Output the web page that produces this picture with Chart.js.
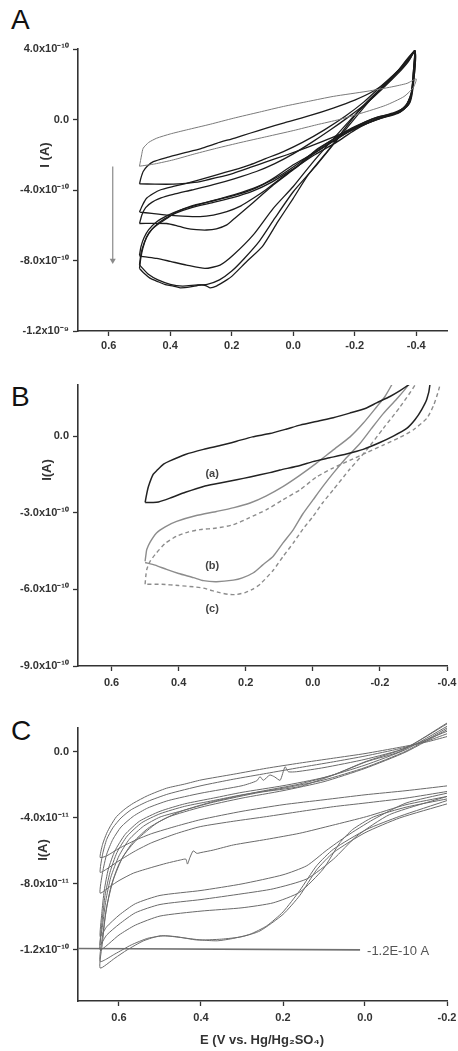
<!DOCTYPE html>
<html>
<head>
<meta charset="utf-8">
<script src="https://cdn.jsdelivr.net/npm/chart.js@4/dist/chart.umd.min.js"></script>
<style>
html, body { margin: 0; padding: 0; background: #fff; }
body { width: 458px; height: 1051px; position: relative; overflow: hidden; font-family: "Liberation Sans", Arial, sans-serif; }
canvas { position: absolute; left: 0; }
.panel { position: absolute; left: 11px; font-size: 28px; line-height: 28px; color: #111; }
</style>
</head>
<body>
<div class="panel" style="top:6px">A</div>
<div class="panel" style="top:383px">B</div>
<div class="panel" style="top:717px">C</div>
<canvas id="chartA" width="458" height="360" style="top:0px"></canvas>
<canvas id="chartB" width="458" height="360" style="top:340px"></canvas>
<canvas id="chartC" width="458" height="351" style="top:700px"></canvas>
<script>
// ---- data: [E (V), I] pairs; A and B in 1e-10 A, C in 1e-11 A ----

// panel A, seven successive scans (closed loops)
const loopA1 = [[0.50,-2.65],[0.493,-2.0],[0.488,-1.63],[0.47,-1.3],[0.444,-1.06],[0.40,-0.82],[0.347,-0.59],[0.27,-0.27],[0.195,0.07],[0.11,0.42],[0.032,0.74],[-0.05,1.03],[-0.13,1.31],[-0.24,1.6],[-0.32,1.85],[-0.37,2.05],[-0.40,2.3],[-0.39,1.8],[-0.36,1.3],[-0.30,0.8],[-0.22,0.35],[-0.15,0.0],[-0.076,-0.3],[0.0,-0.63],[0.086,-0.97],[0.17,-1.3],[0.249,-1.63],[0.32,-1.95],[0.39,-2.29],[0.45,-2.52],[0.50,-2.65]];
const loopA2 = [[0.50,-3.65],[0.495,-3.3],[0.488,-2.95],[0.475,-2.65],[0.455,-2.39],[0.41,-2.15],[0.358,-1.91],[0.30,-1.65],[0.249,-1.35],[0.19,-1.05],[0.141,-0.78],[0.09,-0.5],[0.032,-0.21],[-0.05,0.2],[-0.13,0.65],[-0.2,1.1],[-0.26,1.6],[-0.31,2.2],[-0.35,2.85],[-0.38,3.45],[-0.395,3.9],[-0.392,3.0],[-0.388,2.0],[-0.38,1.1],[-0.36,0.6],[-0.32,0.3],[-0.27,0.05],[-0.2,-0.45],[-0.13,-1.0],[-0.05,-1.55],[0.02,-2.0],[0.086,-2.39],[0.14,-2.72],[0.195,-3.05],[0.25,-3.3],[0.303,-3.52],[0.35,-3.62],[0.39,-3.67],[0.45,-3.67],[0.50,-3.65]];
const loopA3 = [[0.50,-5.25],[0.49,-4.85],[0.477,-4.47],[0.455,-4.2],[0.433,-4.0],[0.39,-3.8],[0.347,-3.62],[0.30,-3.4],[0.249,-3.14],[0.195,-2.87],[0.141,-2.57],[0.09,-2.22],[0.032,-1.82],[-0.03,-1.3],[-0.1,-0.6],[-0.17,0.2],[-0.23,1.0],[-0.28,1.8],[-0.33,2.6],[-0.37,3.3],[-0.395,3.9],[-0.39,2.6],[-0.385,1.6],[-0.37,0.9],[-0.34,0.4],[-0.29,0.1],[-0.22,-0.35],[-0.15,-0.95],[-0.08,-1.65],[-0.02,-2.55],[0.054,-3.52],[0.09,-4.0],[0.13,-4.47],[0.17,-4.9],[0.216,-5.23],[0.26,-5.42],[0.303,-5.51],[0.36,-5.48],[0.412,-5.42],[0.46,-5.33],[0.50,-5.25]];
const loopA4 = [[0.50,-5.9],[0.492,-5.4],[0.48,-5.0],[0.46,-4.7],[0.43,-4.45],[0.39,-4.25],[0.33,-4.0],[0.26,-3.7],[0.19,-3.35],[0.12,-2.95],[0.06,-2.5],[0.0,-1.95],[-0.06,-1.3],[-0.12,-0.6],[-0.18,0.15],[-0.24,0.95],[-0.29,1.75],[-0.34,2.6],[-0.375,3.3],[-0.395,3.9],[-0.39,2.4],[-0.383,1.4],[-0.365,0.75],[-0.33,0.35],[-0.28,0.05],[-0.21,-0.45],[-0.14,-1.1],[-0.07,-1.9],[0.0,-2.85],[0.065,-3.71],[0.11,-4.4],[0.152,-5.04],[0.19,-5.6],[0.216,-5.98],[0.25,-6.2],[0.282,-6.27],[0.315,-6.25],[0.347,-6.18],[0.38,-6.02],[0.412,-5.9],[0.46,-5.89],[0.50,-5.9]];
const loopA5 = [[0.50,-7.7],[0.495,-7.2],[0.485,-6.7],[0.47,-6.25],[0.444,-5.8],[0.41,-5.45],[0.37,-5.15],[0.303,-4.8],[0.24,-4.5],[0.17,-4.15],[0.1,-3.7],[0.04,-3.15],[-0.02,-2.45],[-0.08,-1.7],[-0.14,-1.0],[-0.2,-0.4],[-0.27,0.1],[-0.33,0.4],[-0.365,0.75],[-0.385,1.5],[-0.393,2.8],[-0.396,3.9],[-0.36,3.1],[-0.32,2.3],[-0.27,1.45],[-0.2,0.25],[-0.13,-1.1],[-0.06,-2.5],[0.0,-3.8],[0.065,-5.04],[0.13,-6.55],[0.195,-7.69],[0.238,-8.26],[0.287,-8.45],[0.347,-8.26],[0.40,-8.05],[0.444,-7.88],[0.498,-7.75],[0.50,-7.7]];
const loopA6 = [[0.50,-8.45],[0.496,-7.9],[0.489,-7.3],[0.477,-6.7],[0.46,-6.25],[0.444,-6.0],[0.41,-5.6],[0.38,-5.25],[0.33,-4.9],[0.271,-4.66],[0.2,-4.35],[0.13,-3.95],[0.07,-3.4],[0.0,-2.57],[-0.076,-1.82],[-0.13,-1.25],[-0.2,-0.45],[-0.271,0.12],[-0.347,0.42],[-0.38,0.98],[-0.392,2.2],[-0.396,3.9],[-0.33,2.54],[-0.22,0.64],[-0.11,-1.82],[-0.05,-3.1],[0.0,-4.47],[0.05,-5.8],[0.1,-7.2],[0.152,-8.07],[0.2,-8.9],[0.216,-9.1],[0.25,-9.45],[0.271,-9.55],[0.285,-9.42],[0.303,-9.39],[0.335,-9.5],[0.368,-9.55],[0.39,-9.45],[0.412,-9.39],[0.44,-9.2],[0.466,-9.0],[0.487,-8.7],[0.50,-8.45]];
const loopA7 = [[0.50,-8.25],[0.495,-7.6],[0.485,-7.0],[0.47,-6.45],[0.45,-6.05],[0.42,-5.65],[0.38,-5.3],[0.33,-5.0],[0.27,-4.75],[0.2,-4.45],[0.13,-4.05],[0.07,-3.55],[0.0,-2.8],[-0.07,-2.0],[-0.14,-1.3],[-0.2,-0.6],[-0.27,0.0],[-0.34,0.35],[-0.375,0.85],[-0.39,2.0],[-0.396,3.8],[-0.34,2.75],[-0.25,1.1],[-0.15,-1.0],[-0.07,-2.7],[0.0,-4.1],[0.06,-5.6],[0.11,-6.9],[0.16,-7.9],[0.2,-8.6],[0.24,-9.1],[0.28,-9.35],[0.32,-9.4],[0.36,-9.45],[0.40,-9.35],[0.44,-9.1],[0.47,-8.8],[0.50,-8.25]];
const arrowA = [[0.587,-2.67],[0.587,-8.0]];

// panel B, curves (a), (b), (c)
const curveBa = [[0.50,-2.6],[0.495,-2.25],[0.49,-1.97],[0.476,-1.5],[0.465,-1.35],[0.445,-1.1],[0.426,-0.97],[0.38,-0.72],[0.326,-0.52],[0.27,-0.35],[0.227,-0.2],[0.18,-0.03],[0.128,0.1],[0.08,0.27],[0.038,0.43],[-0.02,0.6],[-0.061,0.72],[-0.11,0.9],[-0.16,1.1],[-0.19,1.3],[-0.23,1.55],[-0.26,1.78],[-0.285,2.0],[-0.31,2.25],[-0.33,2.5],[-0.345,2.25],[-0.349,2.0],[-0.34,1.45],[-0.325,1.05],[-0.305,0.65],[-0.28,0.3],[-0.24,0.0],[-0.2,-0.25],[-0.15,-0.52],[-0.1,-0.7],[-0.05,-0.85],[0.0,-1.0],[0.038,-1.15],[0.098,-1.33],[0.128,-1.43],[0.187,-1.6],[0.227,-1.71],[0.28,-1.85],[0.326,-1.97],[0.38,-2.2],[0.426,-2.43],[0.46,-2.58],[0.476,-2.6],[0.50,-2.6]];
const curveBb = [[0.50,-4.9],[0.497,-4.6],[0.495,-4.44],[0.485,-4.15],[0.466,-3.79],[0.44,-3.55],[0.406,-3.34],[0.35,-3.12],[0.287,-2.95],[0.235,-2.8],[0.187,-2.62],[0.14,-2.35],[0.088,-1.97],[0.04,-1.55],[-0.011,-1.06],[-0.06,-0.55],[-0.111,-0.03],[-0.15,0.5],[-0.19,1.14],[-0.215,1.55],[-0.235,2.0],[-0.255,2.5],[-0.3,2.5],[-0.285,2.0],[-0.25,1.45],[-0.21,0.88],[-0.175,0.3],[-0.141,-0.28],[-0.1,-0.85],[-0.061,-1.45],[-0.03,-1.97],[-0.001,-2.49],[0.03,-3.05],[0.058,-3.66],[0.09,-4.2],[0.118,-4.7],[0.15,-5.05],[0.177,-5.35],[0.21,-5.55],[0.237,-5.64],[0.287,-5.7],[0.326,-5.66],[0.356,-5.54],[0.4,-5.38],[0.436,-5.22],[0.47,-5.05],[0.50,-4.95]];
const curveBc = [[0.50,-5.8],[0.498,-5.5],[0.495,-5.22],[0.485,-4.9],[0.466,-4.57],[0.44,-4.2],[0.406,-3.92],[0.37,-3.75],[0.336,-3.66],[0.287,-3.6],[0.237,-3.47],[0.19,-3.2],[0.138,-2.88],[0.09,-2.5],[0.038,-2.1],[-0.011,-1.6],[-0.06,-1.25],[-0.11,-0.95],[-0.16,-0.65],[-0.21,-0.35],[-0.26,-0.05],[-0.3,0.25],[-0.34,0.7],[-0.36,1.2],[-0.375,1.8],[-0.385,2.5],[-0.33,2.6],[-0.305,2.0],[-0.26,1.14],[-0.21,0.3],[-0.16,-0.55],[-0.11,-1.3],[-0.061,-2.1],[-0.03,-2.6],[-0.001,-3.14],[0.03,-3.65],[0.058,-4.18],[0.088,-4.7],[0.118,-5.25],[0.157,-5.8],[0.177,-5.98],[0.2,-6.12],[0.227,-6.2],[0.25,-6.2],[0.277,-6.13],[0.30,-6.05],[0.326,-5.95],[0.356,-5.9],[0.40,-5.85],[0.45,-5.8],[0.50,-5.8]];

// panel C, eight scans (forward branch then return branch)
const loopC1 = [[-0.2,-2.06],[-0.1,-2.35],[0.0,-2.6],[0.1,-2.9],[0.2,-3.2],[0.3,-3.6],[0.4,-4.1],[0.46,-4.5],[0.52,-4.95],[0.56,-5.35],[0.6,-5.85],[0.63,-6.3],[0.646,-6.4],[0.64,-5.6],[0.63,-4.93],[0.62,-4.45],[0.606,-3.92],[0.585,-3.45],[0.565,-3.11],[0.53,-2.65],[0.484,-2.2],[0.44,-1.95],[0.4,-1.7],[0.32,-1.35],[0.24,-0.99],[0.16,-0.68],[0.077,-0.38],[0.0,-0.1],[-0.085,0.28],[-0.15,0.6],[-0.2,0.93]];
const loopC2 = [[-0.2,-2.4],[-0.1,-2.8],[0.0,-3.1],[0.077,-3.32],[0.16,-3.62],[0.24,-3.92],[0.32,-4.2],[0.402,-4.53],[0.46,-4.95],[0.52,-5.5],[0.56,-6.0],[0.6,-6.6],[0.63,-7.1],[0.646,-7.3],[0.64,-6.2],[0.63,-5.3],[0.615,-4.6],[0.595,-4.0],[0.57,-3.5],[0.53,-3.0],[0.48,-2.55],[0.4,-2.05],[0.32,-1.65],[0.24,-1.3],[0.16,-0.95],[0.077,-0.6],[0.0,-0.25],[-0.085,0.2],[-0.15,0.65],[-0.2,1.1]];
const loopC3 = [[-0.2,-2.7],[-0.1,-3.2],[-0.004,-3.92],[0.08,-4.45],[0.159,-4.93],[0.24,-5.3],[0.321,-5.64],[0.37,-5.95],[0.40,-6.1],[0.41,-6.15],[0.419,-6.0],[0.427,-6.4],[0.433,-6.8],[0.437,-6.5],[0.45,-6.55],[0.484,-6.75],[0.52,-7.0],[0.565,-7.35],[0.6,-7.8],[0.622,-8.16],[0.646,-8.56],[0.64,-7.3],[0.63,-6.2],[0.615,-5.3],[0.595,-4.55],[0.565,-3.9],[0.53,-3.4],[0.48,-2.95],[0.4,-2.5],[0.3,-2.05],[0.264,-1.75],[0.256,-1.5],[0.248,-1.72],[0.232,-1.4],[0.22,-1.52],[0.207,-1.72],[0.195,-0.9],[0.187,-1.2],[0.167,-1.2],[0.1,-0.95],[0.0,-0.45],[-0.1,0.25],[-0.2,1.75]];
const loopC4 = [[-0.2,-2.5],[-0.1,-3.1],[-0.02,-4.1],[0.045,-5.1],[0.093,-5.95],[0.142,-6.9],[0.2,-7.45],[0.3,-8.0],[0.4,-8.4],[0.5,-8.7],[0.56,-9.2],[0.6,-9.9],[0.63,-10.6],[0.646,-11.2],[0.642,-9.8],[0.636,-8.4],[0.626,-7.1],[0.61,-6.0],[0.585,-5.0],[0.55,-4.2],[0.5,-3.6],[0.44,-3.15],[0.37,-2.8],[0.3,-2.45],[0.2,-2.05],[0.1,-1.55],[0.0,-0.8],[-0.1,0.15],[-0.2,1.55]];
const loopC5 = [[-0.2,-2.7],[-0.06,-3.8],[0.02,-5.1],[0.077,-6.5],[0.142,-7.7],[0.224,-8.3],[0.3,-8.6],[0.4,-8.95],[0.5,-9.25],[0.56,-9.75],[0.6,-10.45],[0.63,-11.1],[0.646,-11.7],[0.641,-10.2],[0.634,-8.7],[0.622,-7.3],[0.605,-6.1],[0.58,-5.1],[0.545,-4.3],[0.5,-3.75],[0.44,-3.3],[0.37,-2.95],[0.3,-2.6],[0.2,-2.2],[0.1,-1.7],[0.0,-0.95],[-0.1,0.05],[-0.2,1.45]];
const loopC6 = [[-0.2,-2.85],[-0.1,-3.35],[-0.02,-3.95],[0.03,-4.7],[0.061,-5.5],[0.102,-7.1],[0.159,-8.5],[0.224,-9.15],[0.3,-9.45],[0.4,-9.65],[0.5,-9.95],[0.56,-10.5],[0.6,-11.1],[0.646,-12.0],[0.64,-10.5],[0.632,-9.0],[0.62,-7.6],[0.6,-6.3],[0.575,-5.3],[0.54,-4.5],[0.5,-3.95],[0.451,-3.6],[0.37,-3.05],[0.256,-2.45],[0.16,-2.1],[0.077,-1.4],[0.0,-0.6],[-0.085,0.1],[-0.2,1.25]];
const loopC7 = [[-0.2,-2.95],[-0.085,-3.9],[-0.004,-4.7],[0.077,-5.9],[0.118,-6.9],[0.159,-8.4],[0.2,-9.7],[0.24,-10.55],[0.28,-11.05],[0.32,-11.3],[0.36,-11.45],[0.4,-11.4],[0.45,-11.25],[0.49,-11.15],[0.53,-11.3],[0.57,-11.7],[0.61,-12.25],[0.646,-12.7],[0.638,-10.8],[0.63,-9.38],[0.614,-7.76],[0.59,-6.34],[0.557,-5.33],[0.508,-4.32],[0.451,-3.62],[0.37,-3.01],[0.256,-2.4],[0.16,-1.95],[0.077,-1.39],[-0.004,-0.59],[-0.085,0.02],[-0.2,1.7]];
const loopC8 = [[-0.2,-3.15],[-0.085,-4.0],[0.0,-4.9],[0.077,-6.1],[0.118,-7.15],[0.159,-8.7],[0.2,-9.85],[0.256,-10.85],[0.3,-11.2],[0.35,-11.35],[0.41,-11.4],[0.46,-11.2],[0.5,-11.15],[0.54,-11.45],[0.58,-12.0],[0.61,-12.5],[0.646,-13.1],[0.64,-11.5],[0.633,-9.9],[0.62,-8.2],[0.6,-6.8],[0.57,-5.6],[0.53,-4.65],[0.48,-3.95],[0.4,-3.35],[0.3,-2.8],[0.2,-2.35],[0.1,-1.8],[0.0,-1.0],[-0.1,0.0],[-0.2,1.35]];
const limitLineC = [[0.70,-11.92],[0.012,-12.0]];

// axis ticks
const xTicksAB = [0.6, 0.4, 0.2, 0.0, -0.2, -0.4];
const xLabelsAB = ['0.6', '0.4', '0.2', '0.0', '-0.2', '-0.4'];
const xTicksC = [0.6, 0.4, 0.2, 0.0, -0.2];
const xLabelsC = ['0.6', '0.4', '0.2', '0.0', '-0.2'];
const yTicksA = [4, 0, -4, -8, -12];
const yLabelsA = ['4.0x10⁻¹⁰', '0.0', '-4.0x10⁻¹⁰', '-8.0x10⁻¹⁰', '-1.2x10⁻⁹'];
const yTicksB = [0, -3, -6, -9];
const yLabelsB = ['0.0', '-3.0x10⁻¹⁰', '-6.0x10⁻¹⁰', '-9.0x10⁻¹⁰'];
const yTicksC = [0, -4, -8, -12];
const yLabelsC = ['0.0', '-4.0x10⁻¹¹', '-8.0x10⁻¹¹', '-1.2x10⁻¹⁰'];

const FONT = '"Liberation Sans", Arial, sans-serif';
const AXIS = '#333';

const toXY = arr => arr.map(p => ({ x: p[0], y: p[1] }));

// texts are kept in a closure so Chart's option resolver never touches them
function textPlugin(items) {
	return {
		id: 'panelText',
		afterDatasetsDraw(chart) {
			const ctx = chart.ctx;
			items.forEach(it => {
				let px = it.px, py = it.py;
				if (it.at) {
					px = chart.scales.x.getPixelForValue(it.at[0]);
					py = chart.scales.y.getPixelForValue(it.at[1]);
				}
				ctx.save();
				ctx.setTransform(1, 0, 0, 1, 0, 0);
				ctx.font = it.font;
				ctx.fillStyle = it.color || '#222';
				ctx.textAlign = it.align || 'center';
				ctx.textBaseline = 'middle';
				ctx.translate(px, py);
				if (it.rotate) ctx.rotate(it.rotate);
				ctx.fillText(it.text, 0, 0);
				ctx.restore();
			});
		}
	};
}

function line(arr, colour, width, extra) {
	return Object.assign({
		data: toXY(arr),
		showLine: true,
		borderColor: colour,
		borderWidth: width,
		pointRadius: 0,
		tension: 0.2,
		fill: false
	}, extra || {});
}

function axes(xr, yr, xt, xl, yt, yl, xHeight, xPad) {
	return {
		x: {
			type: 'linear', reverse: true, min: xr[0], max: xr[1],
			afterBuildTicks: s => { s.ticks = xt.map(v => ({ value: v })); },
			afterFit: s => { s.height = xHeight; s.paddingLeft = 0; s.paddingRight = 0; },
			ticks: { callback: (v, i) => xl[i], color: AXIS, padding: xPad, maxRotation: 0, autoSkip: false,
				font: { family: FONT, size: 11, weight: 'bold' } },
			grid: { drawOnChartArea: false, tickLength: 5, tickColor: AXIS, tickWidth: 1.3 },
			border: { display: true, color: AXIS, width: 1.6 }
		},
		y: {
			type: 'linear', min: yr[0], max: yr[1],
			afterBuildTicks: s => { s.ticks = yt.map(v => ({ value: v })); },
			afterFit: s => { s.width = 78; s.paddingTop = 0; s.paddingBottom = 0; },
			ticks: { callback: (v, i) => yl[i], color: AXIS, padding: 4, autoSkip: false,
				font: { family: FONT, size: 11, weight: 'bold' } },
			grid: { drawOnChartArea: false, tickLength: 5, tickColor: AXIS, tickWidth: 1.3 },
			border: { display: true, color: AXIS, width: 1.6 }
		}
	};
}

function makeChart(id, datasets, scales, padTop, texts) {
	return new Chart(document.getElementById(id), {
		type: 'scatter',
		data: { datasets: datasets },
		options: {
			responsive: false,
			animation: false,
			events: [],
			layout: { padding: { top: padTop, right: 11, bottom: 0, left: 0 } },
			scales: scales,
			plugins: { legend: { display: false }, tooltip: { enabled: false } }
		},
		plugins: [textPlugin(texts)]
	});
}

const dark = '#1c1c1c';
makeChart('chartA', [
	line(loopA1, '#7a7a7a', 1),
	line(loopA2, dark, 1.3),
	line(loopA3, dark, 1.3),
	line(loopA4, dark, 1.3),
	line(loopA5, dark, 1.3),
	line(loopA6, dark, 1.3),
	line(loopA7, dark, 1.3),
	line(arrowA, '#8a8a8a', 1.2, { tension: 0, pointRadius: [0, 3.5], pointStyle: 'triangle', rotation: 180,
		pointBackgroundColor: '#8a8a8a', pointBorderColor: '#8a8a8a', pointBorderWidth: 0 })
], axes([-0.5, 0.7], [-12, 4], xTicksAB, xLabelsAB, yTicksA, yLabelsA, 29, 3), 49, [
	{ text: 'I (A)', px: 45, py: 155, rotate: -Math.PI / 2, font: 'bold 13px ' + FONT, color: '#333' }
]);

makeChart('chartB', [
	line(curveBa, '#222', 1.5),
	line(curveBb, '#8c8c8c', 1.4),
	line(curveBc, '#8c8c8c', 1.4, { borderDash: [4, 3] })
], axes([-0.4, 0.7], [-9, 2], xTicksAB, xLabelsAB, yTicksB, yLabelsB, 34, 5), 45, [
	{ text: 'I(A)', px: 47, py: 130, rotate: -Math.PI / 2, font: 'bold 13px ' + FONT, color: '#333' },
	{ text: '(a)', at: [0.30, -1.49], font: 'bold 11px ' + FONT, color: '#444' },
	{ text: '(b)', at: [0.30, -5.09], font: 'bold 11px ' + FONT, color: '#444' },
	{ text: '(c)', at: [0.30, -6.75], font: 'bold 11px ' + FONT, color: '#444' }
]);

const grey = '#6a6a6a';
makeChart('chartC', [
	line(loopC1, grey, 1, { clip: false }),
	line(loopC2, grey, 1, { clip: false }),
	line(loopC3, grey, 1, { clip: false }),
	line(loopC4, grey, 1, { clip: false }),
	line(loopC5, grey, 1, { clip: false }),
	line(loopC6, grey, 1, { clip: false }),
	line(loopC7, grey, 1, { clip: false }),
	line(loopC8, grey, 1, { clip: false }),
	line(limitLineC, '#707070', 1.6, { tension: 0, clip: false })
], axes([-0.2, 0.7], [-15.1, 1.45], xTicksC, xLabelsC, yTicksC, yLabelsC, 50, 5), 28, [
	{ text: 'I(A)', px: 43, py: 150, rotate: -Math.PI / 2, font: 'bold 13px ' + FONT, color: '#333' },
	{ text: '-1.2E-10 A', at: [-0.005, -12.1], align: 'left', font: '13px ' + FONT, color: '#555' },
	{ text: 'E (V vs. Hg/Hg₂SO₄)', px: 262, py: 340, font: 'bold 13px ' + FONT, color: '#333' }
]);
</script>
</body>
</html>
